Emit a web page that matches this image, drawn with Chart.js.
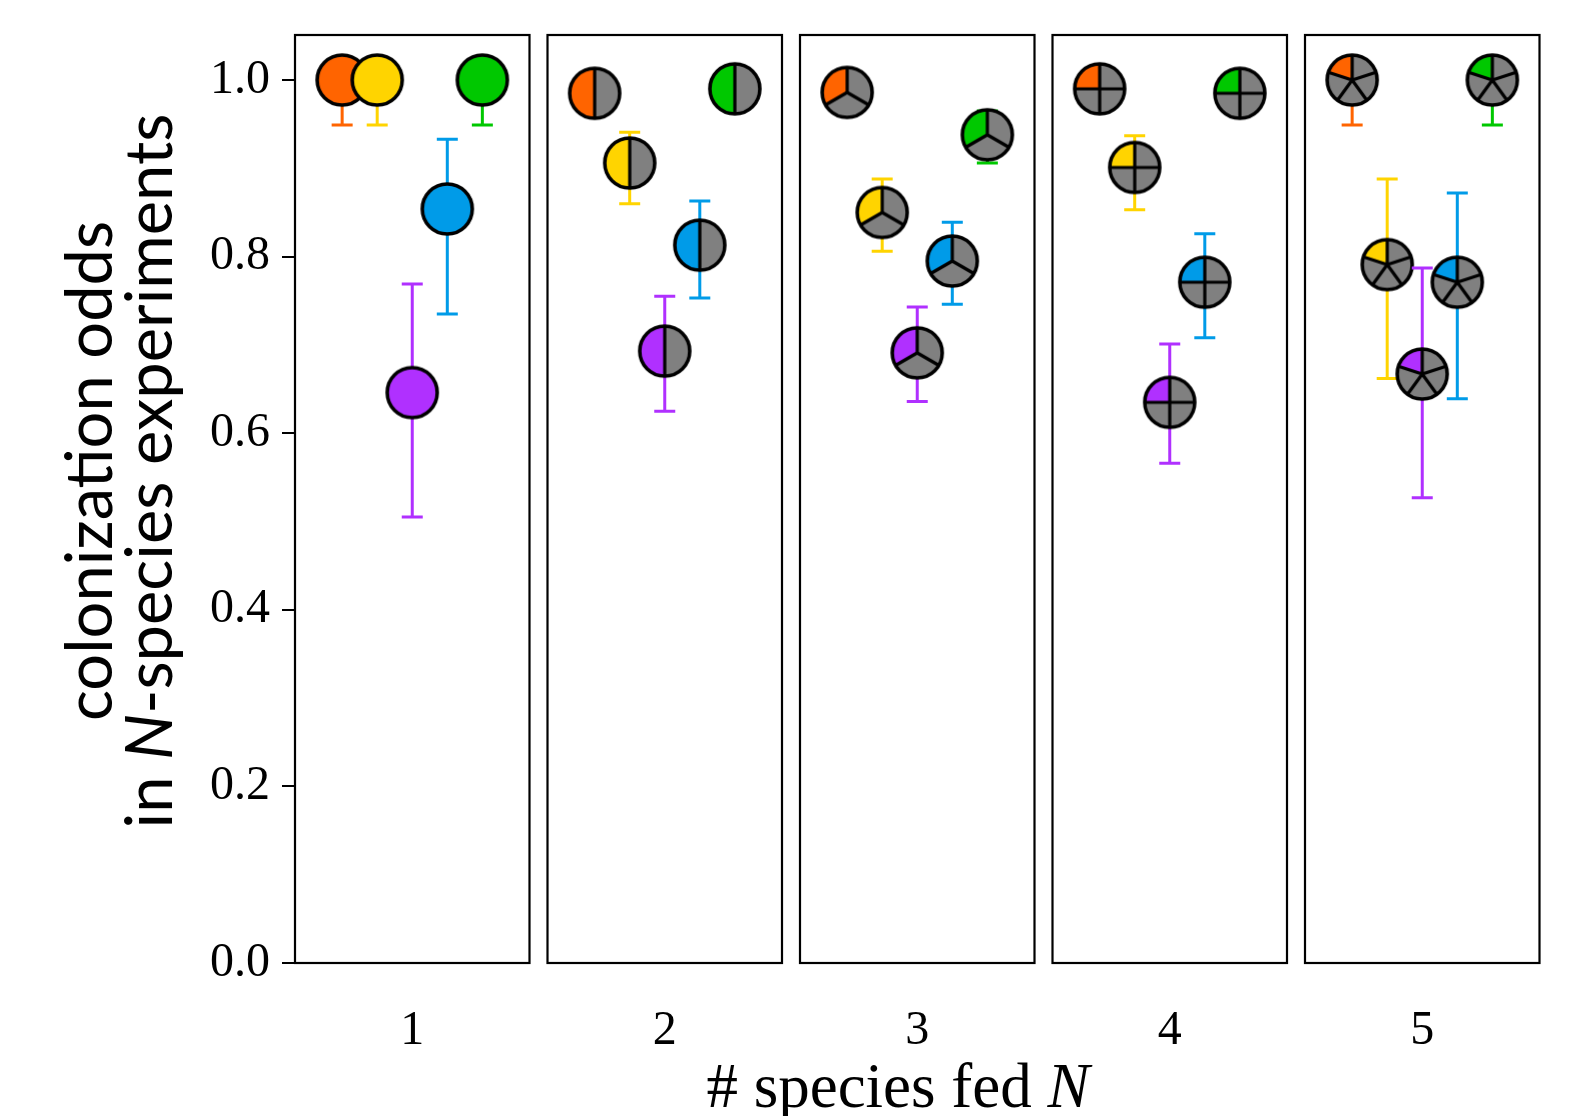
<!DOCTYPE html>
<html><head><meta charset="utf-8">
<script src="https://cdn.jsdelivr.net/npm/chart.js@4.4.1/dist/chart.umd.min.js"></script>
<style>
html,body{margin:0;padding:0;background:#fff;}
#wrap{position:relative;width:1578px;height:1116px;overflow:hidden;background:#fff;}
canvas.panel{position:absolute;left:0;top:0;}
#ytitle{position:absolute;left:117px;top:471px;width:900px;transform:translate(-50%,-50%) rotate(-90deg);font-family:Lato;font-size:65px;line-height:60px;text-align:center;color:#000;white-space:nowrap;}
#xtitle{position:absolute;left:898px;top:1058px;transform:translateX(-50%);font-family:'Liberation Serif';font-size:63px;line-height:56px;white-space:nowrap;color:#000;}
</style></head>
<body><div id="wrap">
<canvas class="panel" id="p0" width="1578" height="1116"></canvas>
<canvas class="panel" id="p1" width="1578" height="1116"></canvas>
<canvas class="panel" id="p2" width="1578" height="1116"></canvas>
<canvas class="panel" id="p3" width="1578" height="1116"></canvas>
<canvas class="panel" id="p4" width="1578" height="1116"></canvas>
<div id="ytitle">colonization odds<br>in <i>N</i>-species experiments</div>
<div id="xtitle"># species fed <i>N</i></div>
</div>
<script>
// ---- data ----
const speciesFed = [1, 2, 3, 4, 5];
const species = ['orange', 'yellow', 'purple', 'blue', 'green'];
const yTicks = [0.0, 0.2, 0.4, 0.6, 0.8, 1.0];

const orangeMean = [1.000, 0.985, 0.986, 0.990, 1.000];
const yellowMean = [1.000, 0.906, 0.850, 0.901, 0.791];
const purpleMean = [0.646, 0.693, 0.691, 0.635, 0.667];
const blueMean   = [0.854, 0.813, 0.795, 0.771, 0.771];
const greenMean  = [1.000, 0.990, 0.938, 0.985, 1.000];

const orangeLow = [0.949, null, null, null, 0.949];
const yellowLow = [0.949, 0.860, 0.806, 0.853, 0.662];
const purpleLow = [0.505, 0.625, 0.636, 0.566, 0.527];
const blueLow   = [0.735, 0.753, 0.746, 0.708, 0.639];
const greenLow  = [0.949, null, 0.906, null, 0.949];

const orangeHigh = [null, null, null, null, null];
const yellowHigh = [null, 0.941, 0.888, 0.937, 0.888];
const purpleHigh = [0.769, 0.755, 0.743, 0.701, 0.787];
const blueHigh   = [0.933, 0.863, 0.839, 0.826, 0.872];
const greenHigh  = [null, null, 0.965, null, null];

// ---- styling / layout ----
const means = [orangeMean, yellowMean, purpleMean, blueMean, greenMean];
const lows = [orangeLow, yellowLow, purpleLow, blueLow, greenLow];
const highs = [orangeHigh, yellowHigh, purpleHigh, blueHigh, greenHigh];
const colors = ['#ff6400', '#ffd400', '#b030ff', '#009be8', '#00c800'];
const dodge = [-2, -1, 0, 1, 2];
const xHalf = 3.345;
const panelLeft = [295, 547.5, 800, 1052.5, 1305];
const panelWidth = 234.5;
const plotTop = 35, plotBottom = 963, W = 1578, H = 1116;

function makeMarker(n, color) {
  const R = 25.0, lw = 3.6, size = 62;
  const c = document.createElement('canvas');
  c.width = size; c.height = size;
  const g = c.getContext('2d');
  const cx = size / 2, cy = size / 2;
  g.lineWidth = lw; g.strokeStyle = '#000'; g.lineJoin = 'round';
  if (n === 1) {
    g.fillStyle = color;
    g.beginPath(); g.arc(cx, cy, R, 0, Math.PI * 2); g.fill();
  } else {
    g.fillStyle = '#808080';
    g.beginPath(); g.arc(cx, cy, R, 0, Math.PI * 2); g.fill();
    g.fillStyle = color;
    g.beginPath(); g.moveTo(cx, cy);
    g.arc(cx, cy, R, -Math.PI / 2, -Math.PI / 2 - 2 * Math.PI / n, true);
    g.closePath(); g.fill();
    g.beginPath();
    g.lineWidth = 3.2;
    for (let k = 0; k < n; k++) {
      const a = -Math.PI / 2 - k * 2 * Math.PI / n;
      g.moveTo(cx, cy); g.lineTo(cx + R * Math.cos(a), cy + R * Math.sin(a));
    }
    g.stroke();
    g.lineWidth = lw;
  }
  g.beginPath(); g.arc(cx, cy, R, 0, Math.PI * 2); g.stroke();
  return c;
}

const errPlugin = {
  id: 'errbars',
  beforeDatasetDraw(chart, args) {
    const ds = chart.data.datasets[args.index];
    const p = ds.data[0];
    const lo = ds.errLow, hi = ds.errHigh;
    if (lo == null && hi == null) return;
    const xs = chart.scales.x, ys = chart.scales.y;
    const px = xs.getPixelForValue(p.x);
    const yT = ys.getPixelForValue(hi != null ? hi : p.y);
    const yB = ys.getPixelForValue(lo != null ? lo : p.y);
    const ctx = chart.ctx;
    ctx.save();
    ctx.strokeStyle = ds.errColor; ctx.lineWidth = 3; ctx.lineCap = 'butt';
    ctx.beginPath();
    ctx.moveTo(px, yT); ctx.lineTo(px, yB);
    const cap = 10.5;
    if (hi != null) { ctx.moveTo(px - cap, yT); ctx.lineTo(px + cap, yT); }
    if (lo != null) { ctx.moveTo(px - cap, yB); ctx.lineTo(px + cap, yB); }
    ctx.stroke();
    ctx.restore();
  }
};

const boxPlugin = {
  id: 'box',
  afterDatasetsDraw(chart) {
    const a = chart.chartArea, ctx = chart.ctx;
    ctx.save();
    ctx.strokeStyle = '#000'; ctx.lineWidth = 2.2;
    ctx.strokeRect(a.left, a.top, a.right - a.left, a.bottom - a.top);
    ctx.restore();
  }
};

speciesFed.forEach((N, k) => {
  const datasets = species.map((s, i) => ({
    label: s,
    data: [{ x: dodge[i], y: means[i][k] }],
    pointStyle: makeMarker(N, colors[i]),
    pointRadius: 26,
    order: species.length - i,
    errLow: lows[i][k],
    errHigh: highs[i][k],
    errColor: colors[i]
  }));
  const first = k === 0;
  new Chart(document.getElementById('p' + k), {
    type: 'scatter',
    data: { datasets },
    options: {
      responsive: false,
      animation: false,
      events: [],
      layout: { padding: { left: first ? 0 : panelLeft[k], right: W - (panelLeft[k] + panelWidth), top: plotTop, bottom: 0 } },
      plugins: { legend: { display: false }, tooltip: { enabled: false } },
      scales: {
        x: {
          type: 'linear', min: -xHalf, max: xHalf,
          ticks: { display: false },
          grid: { display: false },
          border: { display: false },
          title: { display: true, text: String(N), color: '#000',
                   font: { family: 'Liberation Serif', size: 48 },
                   padding: { top: 0, bottom: 56 } },
          afterFit: s => { s.height = H - plotBottom; s.paddingLeft = 0; s.paddingRight = 0; }
        },
        y: {
          display: first,
          min: 0, max: 1.051,
          afterBuildTicks: s => { s.ticks = yTicks.map(v => ({ value: v })); },
          afterFit: s => { s.width = first ? panelLeft[0] : 0; s.paddingTop = 0; s.paddingBottom = 0; },
          ticks: { color: '#000', padding: 12, font: { family: 'Liberation Serif', size: 48 },
                   callback: v => Number(v).toFixed(1) },
          grid: { display: true, drawOnChartArea: false, drawTicks: true, tickLength: 13, color: '#000', lineWidth: 2 },
          border: { display: false },
          title: { display: false }
        }
      }
    },
    plugins: [errPlugin, boxPlugin]
  });
});
</script>
</body></html>
